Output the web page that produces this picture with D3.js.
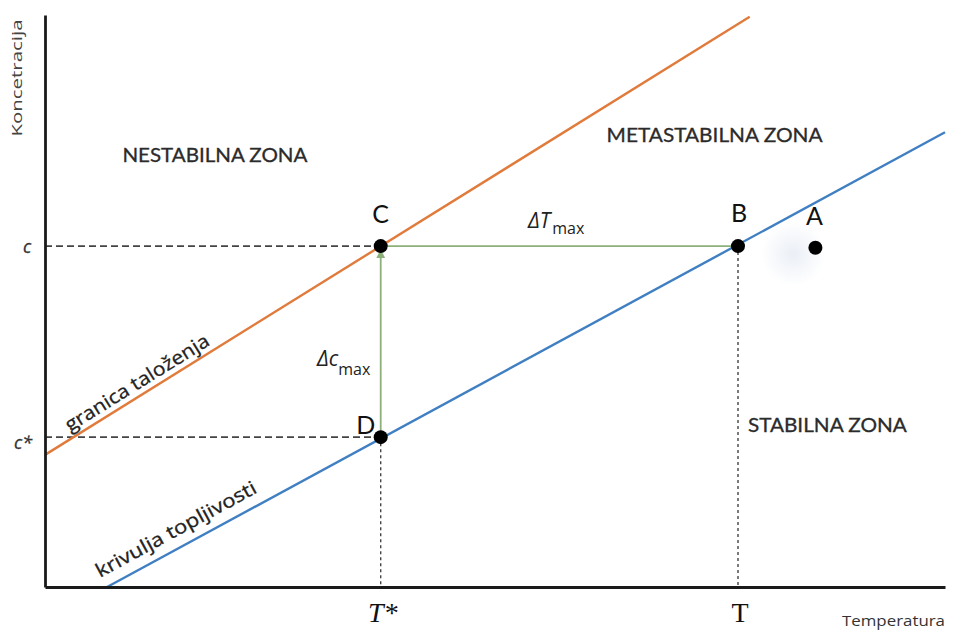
<!DOCTYPE html>
<html><head><meta charset="utf-8">
<script src="https://cdn.jsdelivr.net/npm/d3@7"></script>
<style>html,body{margin:0;padding:0;background:#fff;}svg{display:block;}</style>
</head><body>
<svg id="chart" width="958" height="632"></svg>
<script>
// ---- data (temperature 0..100, concentration 0..100) ----
const precipLine = [[0, 23.1], [78.3, 99.7]];      // granica taloženja
const solubLine  = [[6.9, 0], [100, 79.5]];        // krivulja topljivosti
const pointNames = ["C", "B", "A", "D"];
const pointT     = [37.3, 77.0, 85.6, 37.3];
const pointC     = [59.6, 59.6, 59.3, 26.2];
const yTickLabels = ["c", "c*"];
const yTickValues = [59.6, 26.2];
const xTickLabels = ["T*", "T"];
const xTickValues = [37.3, 77.0];
const zoneNames = ["NESTABILNA ZONA", "METASTABILNA ZONA", "STABILNA ZONA"];
const zoneT     = [8.6, 62.4, 78.1];
const zoneC     = [74.3, 77.8, 27.1];

const svg = d3.select("#chart");
const x = d3.scaleLinear().domain([0, 100]).range([45, 945]);
const y = d3.scaleLinear().domain([0, 100]).range([587, 15]);

const defs = svg.append("defs");
const rg = defs.append("radialGradient").attr("id", "glow");
rg.append("stop").attr("offset", "0%").attr("stop-color", "#c4d0e4").attr("stop-opacity", 0.35);
rg.append("stop").attr("offset", "100%").attr("stop-color", "#c4d0e4").attr("stop-opacity", 0);
defs.append("marker").attr("id", "arr").attr("viewBox", "0 0 10 10")
  .attr("refX", 9).attr("refY", 5).attr("markerWidth", 5).attr("markerHeight", 5)
  .attr("orient", "auto")
  .append("path").attr("d", "M0,0 L10,5 L0,10 z").attr("fill", "#8db07a");

// glow near A
svg.append("circle").attr("cx", x(pointT[2]) - 22).attr("cy", y(pointC[2]) + 6).attr("r", 32)
  .attr("fill", "url(#glow)");

// dashed guide lines
const dash = svg.append("g").attr("stroke", "#444").attr("fill", "none");
yTickValues.forEach((v, i) => {
  dash.append("line").attr("x1", x(0)).attr("x2", x(xTickValues[0]))
    .attr("y1", y(v)).attr("y2", y(v)).attr("stroke-width", 1.7).attr("stroke-dasharray", "7,4");
});
dash.append("line").attr("x1", x(xTickValues[0])).attr("x2", x(xTickValues[0]))
  .attr("y1", y(pointC[3])).attr("y2", y(0)).attr("stroke-width", 1.4).attr("stroke-dasharray", "3,3");
dash.append("line").attr("x1", x(xTickValues[1])).attr("x2", x(xTickValues[1]))
  .attr("y1", y(pointC[1])).attr("y2", y(0)).attr("stroke-width", 1.4).attr("stroke-dasharray", "3,3");

// main lines
const line = d3.line().x(d => x(d[0])).y(d => y(d[1]));
svg.append("path").datum(precipLine).attr("d", line).attr("stroke", "#e07b3c").attr("stroke-width", 2.4).attr("fill", "none");
svg.append("path").datum(solubLine).attr("d", line).attr("stroke", "#3f7fc2").attr("stroke-width", 2.4).attr("fill", "none");

// green lines
svg.append("line").attr("x1", x(pointT[0])).attr("x2", x(pointT[1]))
  .attr("y1", y(pointC[0])).attr("y2", y(pointC[1])).attr("stroke", "#8db07a").attr("stroke-width", 1.8);
svg.append("line").attr("x1", x(pointT[3])).attr("x2", x(pointT[0]))
  .attr("y1", y(pointC[3])).attr("y2", y(pointC[0]) + 4).attr("stroke", "#8db07a").attr("stroke-width", 1.8)
  .attr("marker-end", "url(#arr)");

// axes
const xAxis = d3.axisBottom(x).tickValues([]).tickSizeOuter(0);
const yAxis = d3.axisLeft(y).tickValues([]).tickSizeOuter(0);
svg.append("g").attr("transform", `translate(0,${y(0)})`).call(xAxis)
  .select(".domain").attr("stroke", "#1a1a1a").attr("stroke-width", 2.8);
svg.append("g").attr("transform", `translate(${x(0)},0)`).call(yAxis)
  .select(".domain").attr("stroke", "#1a1a1a").attr("stroke-width", 2.8);

// points
svg.selectAll(".pt").data(pointNames).enter().append("circle")
  .attr("cx", (d, i) => x(pointT[i])).attr("cy", (d, i) => y(pointC[i])).attr("r", 7).attr("fill", "#000");
const lblDx = [0, 1, -1, -15];
const lblDy = [-23, -24, -23, -3];
svg.selectAll(".pl").data(pointNames).enter().append("text")
  .attr("x", (d, i) => x(pointT[i]) + lblDx[i]).attr("y", (d, i) => y(pointC[i]) + lblDy[i])
  .attr("text-anchor", "middle").attr("font-family", "Lato, 'Open Sans', sans-serif")
  .attr("font-size", 25).attr("fill", "#111").text(d => d);

// axis tick labels
svg.selectAll(".yl").data(yTickLabels).enter().append("text")
  .attr("x", (d, i) => i === 0 ? 27 : 23).attr("y", (d, i) => y(yTickValues[i]) + 7 + i * 5)
  .attr("text-anchor", "middle").attr("font-family", "'Open Sans', sans-serif").attr("font-style", "italic")
  .attr("font-size", 18).attr("fill", "#333").attr("stroke", "#333").attr("stroke-width", 0.3).text(d => d);
svg.selectAll(".xl").data(xTickLabels).enter().append("text")
  .attr("x", (d, i) => x(xTickValues[i]) + 2).attr("y", 622)
  .attr("text-anchor", "middle").attr("font-family", "'Liberation Serif', 'DejaVu Serif', serif")
  .attr("font-style", (d, i) => i === 0 ? "italic" : "normal")
  .attr("font-size", 28).attr("fill", "#111").text(d => d);

// axis titles
svg.append("text").attr("transform", "translate(22,78) rotate(-90)").attr("text-anchor", "middle")
  .attr("font-family", "'Open Sans', sans-serif").attr("font-size", 14).attr("fill", "#444")
  .attr("textLength", 117).attr("lengthAdjust", "spacingAndGlyphs").text("Koncetracija");
svg.append("text").attr("x", 945).attr("y", 626).attr("text-anchor", "end")
  .attr("font-family", "'Open Sans', sans-serif").attr("font-size", 15).attr("fill", "#333")
  .attr("textLength", 103).attr("lengthAdjust", "spacingAndGlyphs").text("Temperatura");

// zone labels
const zoneW = [185, 216, 159];
svg.selectAll(".zn").data(zoneNames).enter().append("text")
  .attr("x", (d, i) => x(zoneT[i])).attr("y", (d, i) => y(zoneC[i]))
  .attr("font-family", "Lato, sans-serif").attr("font-size", 19).attr("fill", "#2b2b2b")
  .attr("stroke", "#2b2b2b").attr("stroke-width", 0.3)
  .attr("textLength", (d, i) => zoneW[i]).attr("lengthAdjust", "spacingAndGlyphs").text(d => d);

// delta labels
const dT = svg.append("text").attr("x", 528).attr("y", 228).attr("font-family", "'Open Sans', sans-serif").attr("fill", "#222");
dT.append("tspan").attr("font-size", 21).attr("font-style", "italic").text("ΔT");
dT.append("tspan").attr("font-size", 16).attr("dy", 6).attr("dx", 2).text("max");
const dC = svg.append("text").attr("x", 317).attr("y", 366).attr("font-family", "'Open Sans', sans-serif").attr("fill", "#222");
dC.append("tspan").attr("font-size", 21).attr("font-style", "italic").text("Δc");
dC.append("tspan").attr("font-size", 16).attr("dy", 9).attr("dx", 0).text("max");

// labels along curves
function angleOf(seg) {
  return Math.atan2(y(seg[1][1]) - y(seg[0][1]), x(seg[1][0]) - x(seg[0][0])) * 180 / Math.PI;
}
const a1 = angleOf(precipLine), a2 = angleOf(solubLine);
svg.append("text").attr("transform", `translate(70,432) rotate(${a1})`)
  .attr("font-family", "'Open Sans', sans-serif").attr("font-size", 19).attr("fill", "#222")
  .attr("stroke", "#222").attr("stroke-width", 0.3)
  .attr("textLength", 166).attr("lengthAdjust", "spacingAndGlyphs").text("granica taloženja");
svg.append("text").attr("transform", `translate(100,578) rotate(${a2})`)
  .attr("font-family", "'Open Sans', sans-serif").attr("font-size", 19).attr("fill", "#222")
  .attr("stroke", "#222").attr("stroke-width", 0.3)
  .attr("textLength", 180).attr("lengthAdjust", "spacingAndGlyphs").text("krivulja topljivosti");
</script>
</body></html>
